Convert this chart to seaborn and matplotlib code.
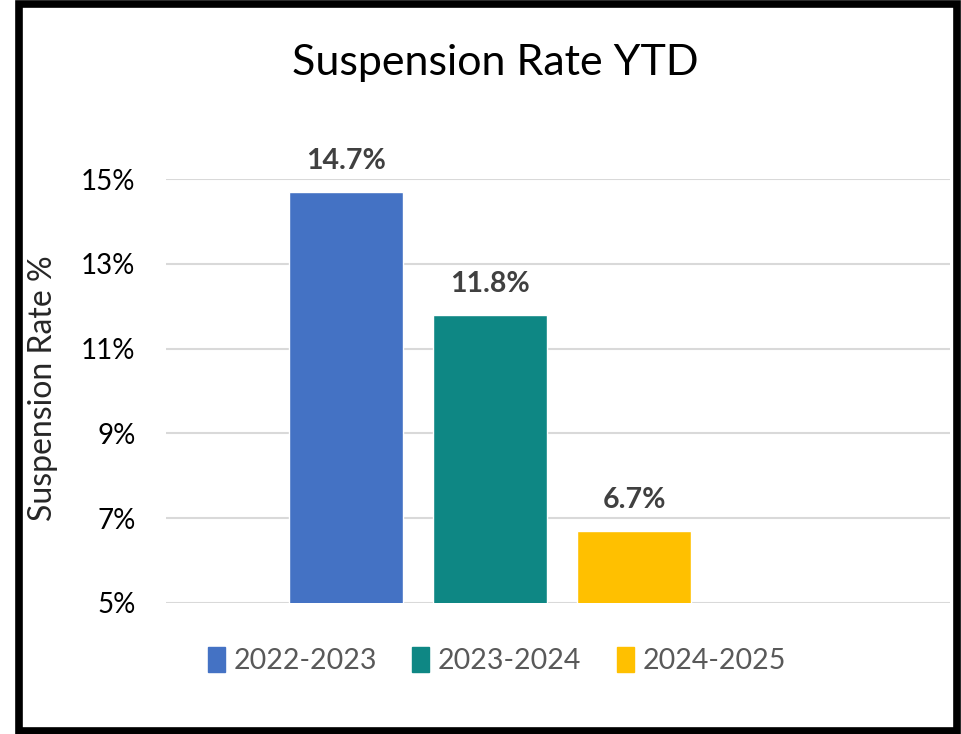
import matplotlib
matplotlib.use("Agg")
import matplotlib.pyplot as plt
import seaborn as sns
import pandas as pd
from matplotlib.patches import Rectangle

seasons = ["2022-2023", "2023-2024", "2024-2025"]
rates = [14.7, 11.8, 6.7]
colors = ["#4472C4", "#0E8784", "#FFC000"]
y_ticks = [5, 7, 9, 11, 13, 15]


def plot_rates():
    df = pd.DataFrame({"season": seasons, "rate": rates})

    sns.set_style("white")
    plt.rcParams["font.family"] = ["Lato", "DejaVu Sans"]

    fig = plt.figure(figsize=(9.61, 7.34), dpi=100)
    ax = fig.add_axes([0.1727, 0.1785, 0.8159, 0.5776])

    sns.barplot(data=df, x="season", y="rate", hue="season", palette=colors,
                width=0.79, saturation=1, ax=ax, legend=False)

    ax.set_ylim(5, 15)
    ax.set_xlim(-1.25, 4.19)
    ax.set_yticks(y_ticks)
    ax.set_yticklabels([f"{t}%" for t in y_ticks], fontsize=20, color="black")
    ax.tick_params(axis="y", length=0, pad=22)
    ax.set_xticks([])
    ax.set_xlabel("")
    ax.set_ylabel("Suspension Rate %", fontsize=23)
    ax.yaxis.set_label_coords(-0.138, 0.507)
    ax.grid(axis="y", color="#d9d9d9", linewidth=1.5)
    ax.set_axisbelow(True)
    for s in ax.spines.values():
        s.set_visible(False)

    # value labels above bars
    for i, v in enumerate(rates):
        ax.text(i, v + 0.42, f"{v}%", ha="center", va="bottom", fontsize=20.5,
                fontweight="bold", color="#404040", clip_on=False)

    fig.text(0.515, 0.914, "Suspension Rate YTD", ha="center", va="center",
             fontsize=31, color="black")

    handles = [Rectangle((0, 0), 1, 1, color=c) for c in colors]
    fig.legend(handles, seasons, loc="center", bbox_to_anchor=(0.517, 0.0995),
               ncol=3, frameon=False, fontsize=20.5, labelcolor="#595959",
               handlelength=0.6, handleheight=0.95, handletextpad=0.3,
               columnspacing=1.25)

    # black frame around the whole picture
    fig.patches.append(Rectangle((18.5 / 961, 3.5 / 734), 938.5 / 961, 727 / 734,
                                 transform=fig.transFigure, fill=False,
                                 edgecolor="black", linewidth=5.5))

    fig.savefig("out.png", dpi=100)


if __name__ == "__main__":
    plot_rates()
